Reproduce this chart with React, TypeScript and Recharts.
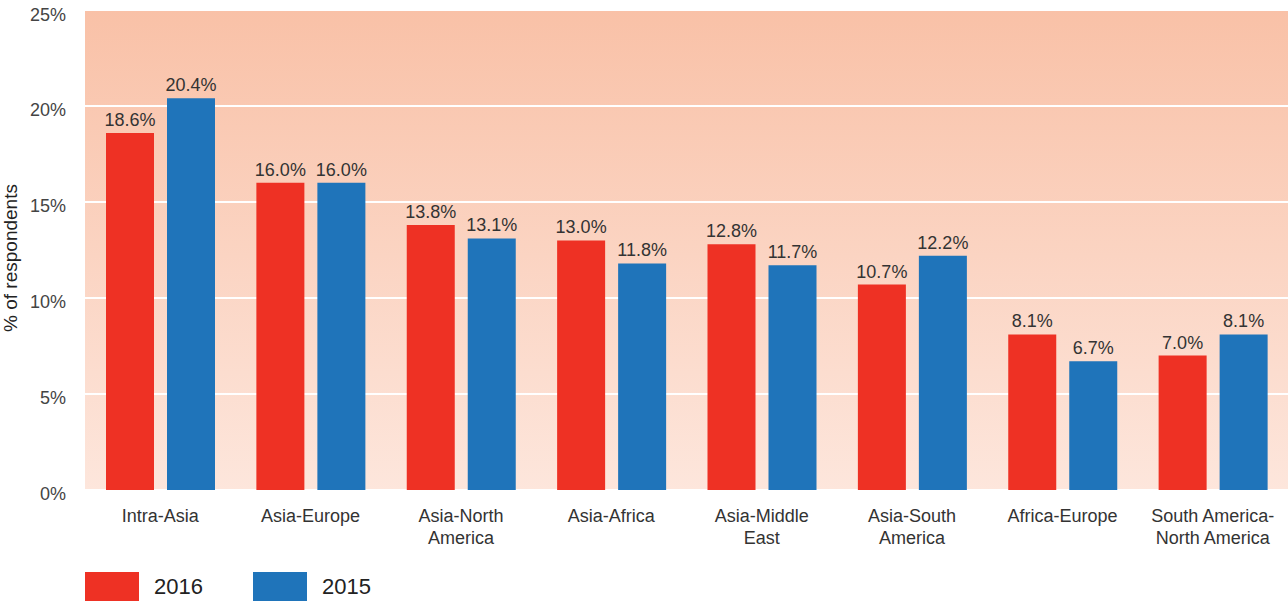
import { BarChart, Bar, XAxis, YAxis, CartesianGrid, LabelList, Label } from "recharts";

// categories, two lines each where the original wraps
const routes = [
  "Intra-Asia",
  "Asia-Europe",
  "Asia-North\nAmerica",
  "Asia-Africa",
  "Asia-Middle\nEast",
  "Asia-South\nAmerica",
  "Africa-Europe",
  "South America-\nNorth America",
];
const values2016 = [18.6, 16.0, 13.8, 13.0, 12.8, 10.7, 8.1, 7.0];
const values2015 = [20.4, 16.0, 13.1, 11.8, 11.7, 12.2, 6.7, 8.1];
const yTicks = [0, 5, 10, 15, 20, 25];
const seriesNames = ["2016", "2015"];

const RED = "#ee3124";
const BLUE = "#1f74ba";
const FONT = "'Liberation Sans', Arial, sans-serif";

const data = routes.map((route, i) => ({
  route,
  y2016: values2016[i],
  y2015: values2015[i],
}));

function RouteTick(props: any) {
  const { x, y, payload } = props;
  const lines = String(payload.value).split("\n");
  return (
    <text x={x} y={y} textAnchor="middle" fill="#333" fontSize={18} fontFamily={FONT}>
      {lines.map((line, i) => (
        <tspan key={i} x={x} dy={i === 0 ? 24 : 22}>
          {line}
        </tspan>
      ))}
    </text>
  );
}

const pct = (v: any) => `${Number(v).toFixed(1)}%`;

export default function App() {
  return (
    <div style={{ position: "absolute", left: 0, top: 0, width: 1288, height: 601, background: "#fff" }}>
      <BarChart
        width={1288}
        height={601}
        data={data}
        margin={{ top: 10, right: 0, bottom: 0, left: 0 }}
        barCategoryGap={21}
        barGap={13}
      >
        <defs>
          <linearGradient id="bgFade" x1="0" y1="0" x2="0" y2="1">
            <stop offset="0%" stopColor="#f9c1a7" />
            <stop offset="100%" stopColor="#fde6dc" />
          </linearGradient>
        </defs>
        <CartesianGrid vertical={false} stroke="#ffffff" strokeWidth={2} fill="url(#bgFade)" />
        <XAxis
          dataKey="route"
          height={111}
          axisLine={false}
          tickLine={false}
          interval={0}
          tick={<RouteTick />}
        />
        <YAxis
          width={85}
          domain={[0, 25]}
          ticks={yTicks}
          tickFormatter={(v) => `${v}%`}
          axisLine={false}
          tickLine={false}
          tickSize={0}
          tickMargin={19}
          tick={{ fill: "#444", fontSize: 18, fontFamily: FONT, dy: 4 }}
        >
          <Label
            value="% of respondents"
            angle={-90}
            position="insideLeft"
            offset={0}
            dx={10}
            dy={8}
            style={{ fill: "#222", fontSize: 19, fontFamily: FONT, textAnchor: "middle" }}
          />
        </YAxis>
        <Bar dataKey="y2016" name={seriesNames[0]} fill={RED} isAnimationActive={false}>
          <LabelList dataKey="y2016" position="top" offset={7} formatter={pct} fill="#333" fontSize={18} fontFamily={FONT} />
        </Bar>
        <Bar dataKey="y2015" name={seriesNames[1]} fill={BLUE} isAnimationActive={false}>
          <LabelList dataKey="y2015" position="top" offset={7} formatter={pct} fill="#333" fontSize={18} fontFamily={FONT} />
        </Bar>
      </BarChart>
      <div style={{ position: "absolute", left: 85, top: 572, display: "flex", alignItems: "center", fontFamily: FONT, fontSize: 22, color: "#222" }}>
        {seriesNames.map((name, i) => (
          <div key={name} style={{ display: "flex", alignItems: "center", width: 168 }}>
            <span style={{ display: "inline-block", width: 54, height: 29, background: i === 0 ? RED : BLUE }} />
            <span style={{ marginLeft: 15, lineHeight: "29px" }}>{name}</span>
          </div>
        ))}
      </div>
    </div>
  );
}
